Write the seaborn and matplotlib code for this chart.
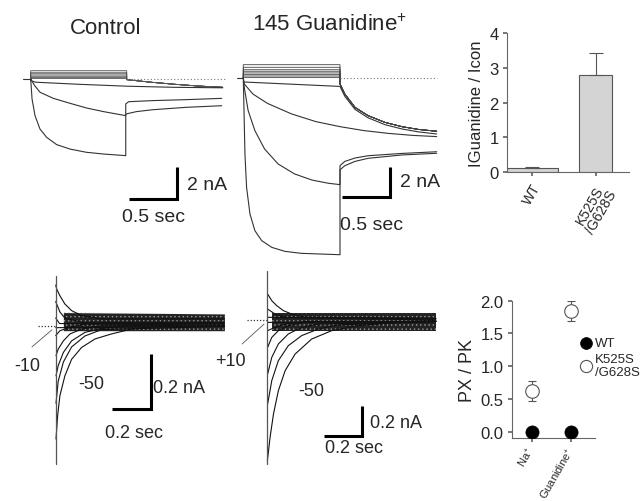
import numpy as np
import pandas as pd
import matplotlib
matplotlib.use("Agg")
import matplotlib.pyplot as plt
import matplotlib.transforms as mtransforms
import seaborn as sns

sns.set_theme(style="white")
plt.rcParams['font.family'] = ['Liberation Sans', 'DejaVu Sans']
plt.rcParams['mathtext.fontset'] = 'custom'
plt.rcParams['mathtext.rm'] = 'Liberation Sans'
plt.rcParams['hatch.linewidth'] = 0.5

# ---------------- DATA ----------------
# Top-left: Control currents (time s, current nA)
CTRL_UP_LEVELS = [0.52, 0.42, 0.33, 0.25, 0.17, 0.09, 0.03]
CTRL_UP_TAIL_T = [1.0, 1.25, 1.5, 1.75, 2.0]
CTRL_UP_TAIL_I = [-0.04, -0.2, -0.33, -0.44, -0.52]
CTRL_A_T = [0.0, 0.05, 0.5, 1.0, 1.5, 2.0]
CTRL_A_I = [-0.1, -0.2, -0.33, -0.45, -0.52, -0.55]
CTRL_B_T = [0.0, 0.04, 0.097, 0.236, 0.41, 0.58, 0.76, 0.99, 0.99, 1.10, 1.27, 1.62, 1.99]
CTRL_B_I = [0.0, -0.4, -0.83, -1.21, -1.52, -1.81, -2.04, -2.29, -2.19, -2.04, -1.92, -1.77, -1.67]
CTRL_C_T = [0.0, 0.014, 0.045, 0.097, 0.167, 0.27, 0.41, 0.58, 0.76, 0.99, 0.99, 1.02, 1.27, 1.62, 1.99]
CTRL_C_I = [0.0, -1.25, -2.29, -3.13, -3.65, -4.1, -4.38, -4.58, -4.69, -4.79, -1.56, -1.42, -1.35, -1.29, -1.21]

# Top-middle: 145 Guanidine+
GUA_UP_LEVELS = [0.87, 0.70, 0.54, 0.44, 0.33, 0.22, 0.13, 0.04]
GUA_TAIL_T = [1.0, 1.05, 1.155, 1.29, 1.465, 1.64, 1.81, 2.0]
GUA_TAIL_I = [-0.39, -1.05, -1.92, -2.46, -2.9, -3.18, -3.36, -3.48]
GUA_FLAT_T = [0.0, 1.0, 1.0, 1.05, 1.155, 1.29, 1.465, 1.64, 1.81, 2.0]
GUA_FLAT_I = [-0.26, -0.55, -0.55, -1.2, -2.05, -2.6, -3.05, -3.33, -3.52, -3.66]
GUA_D_T = [0.0, 0.01, 0.1, 0.25, 0.5, 0.75, 1.0, 1.25, 1.5, 1.75, 2.0]
GUA_D_I = [0.0, -0.39, -1.05, -1.66, -2.35, -2.85, -3.18, -3.44, -3.62, -3.75, -3.83]
GUA_E_T = [0.0, 0.01, 0.05, 0.12, 0.22, 0.36, 0.53, 0.71, 0.88, 1.0, 1.0, 1.05, 1.155, 1.29, 1.64, 2.0]
GUA_E_I = [0.0, -0.61, -2.13, -3.44, -4.64, -5.62, -6.27, -6.67, -6.88, -6.97, -6.0, -5.73, -5.45, -5.25, -5.03, -4.92]
GUA_F_T = [0.0, 0.017, 0.034, 0.069, 0.12, 0.19, 0.295, 0.43, 0.6, 1.0, 1.0, 1.05, 1.155, 1.29, 1.64, 2.0]
GUA_F_I = [0.0, -4.97, -7.15, -8.89, -9.98, -10.63, -11.07, -11.33, -11.46, -11.55, -5.73, -5.45, -5.23, -5.08, -4.93, -4.82]

# Bottom-left: control tail currents
BL_TRACES = {
    "t1": ([0.0, 0.005, 0.022, 0.048, 0.083, 0.135, 0.24, 0.88], [0.15, 0.136, 0.111, 0.081, 0.057, 0.039, 0.027, 0.027]),
    "t2": ([0.0, 0.022, 0.048, 0.135, 0.88], [0.09, 0.052, 0.03, 0.015, 0.015]),
    "t3": ([0.0, 0.02, 0.88], [0.03, 0.01, 0.01]),
    "t4": ([0.0, 0.88], [-0.005, 0.0]),
    "t5": ([0.0, 0.022, 0.074, 0.153, 0.88], [-0.034, -0.016, -0.004, 0.008, 0.005]),
    "t6": ([0.0016, 0.013, 0.04, 0.074, 0.135, 0.24, 0.88], [-0.107, -0.083, -0.053, -0.028, -0.01, 0.002, 0.0]),
    "t7": ([0.0016, 0.013, 0.04, 0.083, 0.153, 0.24, 0.344, 0.88], [-0.18, -0.143, -0.095, -0.053, -0.022, -0.008, 0.002, 0.0]),
    "t8": ([0.0016, 0.013, 0.04, 0.083, 0.153, 0.24, 0.88], [-0.28, -0.2, -0.13, -0.075, -0.035, -0.012, 0.0]),
    "t9": ([0.0016, 0.01, 0.022, 0.048, 0.083, 0.135, 0.205, 0.29, 0.396, 0.553, 0.88],
           [-0.41, -0.325, -0.252, -0.18, -0.12, -0.077, -0.046, -0.028, -0.01, 0.002, 0.0]),
}
BL_NOISE_T = [0.04, 0.88]
BL_NOISE_LO = [-0.016, -0.016]
BL_NOISE_HI = [0.05, 0.045]
BL_TRANSIENT_I = [0.184, -0.50]

# Bottom-middle: guanidine tail currents
BM_TRACES = {
    "t1": ([0.005, 0.027, 0.053, 0.089, 0.133, 0.204, 0.9], [0.173, 0.129, 0.096, 0.062, 0.04, 0.018, 0.01]),
    "t2": ([0.005, 0.044, 0.098, 0.9], [0.073, 0.04, 0.018, 0.01]),
    "t3": ([0.005, 0.9], [0.018, 0.0]),
    "t4": ([0.005, 0.9], [-0.016, -0.01]),
    "t5": ([0.005, 0.044, 0.098, 0.204, 0.9], [-0.071, -0.049, -0.027, -0.01, -0.01]),
    "t6": ([0.005, 0.027, 0.062, 0.115, 0.204, 0.9], [-0.182, -0.116, -0.071, -0.038, -0.015, -0.01]),
    "t7": ([0.005, 0.027, 0.062, 0.115, 0.186, 0.275, 0.9], [-0.36, -0.249, -0.16, -0.093, -0.049, -0.027, -0.01]),
    "t8": ([0.005, 0.027, 0.062, 0.115, 0.186, 0.275, 0.381, 0.9], [-0.56, -0.404, -0.271, -0.171, -0.104, -0.06, -0.033, -0.01]),
    "t9": ([0.0035, 0.018, 0.036, 0.062, 0.098, 0.151, 0.239, 0.346, 0.488, 0.63, 0.77, 0.9],
           [-0.938, -0.782, -0.627, -0.471, -0.338, -0.227, -0.127, -0.071, -0.038, -0.022, -0.009, -0.005]),
}
BM_NOISE_T = [0.03, 0.9]
BM_NOISE_LO = [-0.07, -0.07]
BM_NOISE_HI = [0.05, 0.05]
BM_TRANSIENT_I = [0.329, -0.96]

# Bar chart
BAR_GROUPS = ["WT", "K525S\n/G628S"]
BAR_VALUES = [0.12, 2.8]
BAR_ERR = [0.02, 0.62]

# Permeability ratios
ION_LABELS = ["Na$^{+}$", "Guanidine$^{+}$"]
PX_WT = [0.0, 0.0]
PX_MUT = [0.62, 1.84]
PX_MUT_ERR = [0.15, 0.15]

# ---------------- LAYOUT ----------------
W, H = 640, 502
fig = plt.figure(figsize=(6.4, 5.02), dpi=100)
fig.patch.set_facecolor("white")


def trace_axes(left, right, top, bottom, x0, sx, y0, sy):
    ax = fig.add_axes([left / W, 1 - bottom / H, (right - left) / W, (bottom - top) / H])
    ax.set_xlim((left - x0) / sx, (right - x0) / sx)
    ax.set_ylim((y0 - bottom) / sy, (y0 - top) / sy)
    ax.axis("off")
    return ax


def draw_trace(ax, t, i, color="#333333", lw=0.8):
    df = pd.DataFrame({"t": t, "I": i})
    sns.lineplot(data=df, x="t", y="I", sort=False, estimator=None, ax=ax,
                 color=color, lw=lw, legend=False)


def scale_bar(ax, x_end, y_bot, dt, di, lw=2.2):
    ax.plot([x_end - dt, x_end, x_end], [y_bot, y_bot, y_bot + di], color="black",
            lw=lw, solid_joinstyle="miter", solid_capstyle="butt")


def noise_band(ax, t, lo, hi):
    ax.fill_between(t, lo, hi, facecolor="#101010", alpha=0.92, lw=0, zorder=1)
    ax.fill_between(t, lo, hi, facecolor="none", hatch="....", edgecolor="#999999", lw=0, zorder=1)


# ---- Control (top-left)
ax1 = trace_axes(10, 235, 15, 240, 30.7, 96, 80, 16)
for lvl in CTRL_UP_LEVELS:
    draw_trace(ax1, [0, 0.0, 1.0, 1.0] + CTRL_UP_TAIL_T[1:],
               [0, lvl, lvl, CTRL_UP_TAIL_I[0]] + CTRL_UP_TAIL_I[1:], color="#555555", lw=0.6)
draw_trace(ax1, CTRL_A_T, CTRL_A_I)
draw_trace(ax1, CTRL_B_T, CTRL_B_I)
draw_trace(ax1, CTRL_C_T, CTRL_C_I)
ax1.plot([-0.08, 0.0], [0, 0], color="#333333", lw=0.8)
ax1.plot([1.0, 2.05], [0, 0], color="#777777", lw=0.8, ls=(0, (1, 2)))
scale_bar(ax1, 1.525, -7.5, 0.5, 2)
ax1.text(1.63, -6.6, "2 nA", fontsize=14, va="center", ha="left")
ax1.text(1.275, -8.6, "0.5 sec", fontsize=14, va="center", ha="center")

# ---- Guanidine (top-middle)
ax2 = trace_axes(232, 440, 15, 262, 243.3, 96.7, 79, 15.3)
for lvl in GUA_UP_LEVELS:
    draw_trace(ax2, [0, 0.0, 1.0] + GUA_TAIL_T, [0, lvl, lvl] + GUA_TAIL_I, color="#444444", lw=0.6)
draw_trace(ax2, GUA_FLAT_T, GUA_FLAT_I)
draw_trace(ax2, GUA_D_T, GUA_D_I)
draw_trace(ax2, GUA_E_T, GUA_E_I)
draw_trace(ax2, GUA_F_T, GUA_F_I)
ax2.plot([-0.07, 0.0], [0, 0], color="#333333", lw=0.8)
ax2.plot([1.0, 2.0], [0, 0], color="#777777", lw=0.8, ls=(0, (1, 2)))
scale_bar(ax2, 1.517, -7.8, 0.5, 2)
ax2.text(1.62, -6.75, "2 nA", fontsize=14, va="center", ha="left")
ax2.text(1.0, -9.55, "0.5 sec", fontsize=14, va="center", ha="left")

fig.text(106 / W, 1 - 29 / H, "Control", fontsize=16, ha="center", va="center")
fig.text(330 / W, 1 - 25 / H, "145 Guanidine$^{+}$", fontsize=16, ha="center", va="center")

# ---- Bottom-left
ax3 = trace_axes(5, 238, 262, 478, 55.7, 191.7, 327.3, 275)
noise_band(ax3, BL_NOISE_T, BL_NOISE_LO, BL_NOISE_HI)
for name, (t, i) in BL_TRACES.items():
    draw_trace(ax3, t, i, color="#111111", lw=0.8)
ax3.plot([0, 0], BL_TRANSIENT_I, color="#555555", lw=0.9)
ax3.plot([-0.092, 0.0], [0, 0], color="#333333", lw=0.9, ls=(0, (1, 1.5)))
ax3.plot([-0.124, -0.02], [-0.075, -0.013], color="#555555", lw=0.6)
scale_bar(ax3, 0.4956, -0.3007, 0.2, 0.2)
ax3.text(-0.15, -0.144, "-10", fontsize=13, ha="center", va="center")
ax3.text(0.184, -0.208, "-50", fontsize=13, ha="center", va="center")
ax3.text(0.51, -0.221, "0.2 nA", fontsize=13, ha="left", va="center")
ax3.text(0.408, -0.385, "0.2 sec", fontsize=13, ha="center", va="center")
ax3.text(0.912, -0.125, "+10", fontsize=13, ha="center", va="center")

# ---- Bottom-middle
ax4 = trace_axes(238, 442, 262, 478, 266.7, 188, 321, 150)
noise_band(ax4, BM_NOISE_T, BM_NOISE_LO, BM_NOISE_HI)
for name, (t, i) in BM_TRACES.items():
    draw_trace(ax4, t, i, color="#111111", lw=0.8)
ax4.plot([0, 0], BM_TRANSIENT_I, color="#555555", lw=0.9)
ax4.plot([-0.106, 0.0], [0, 0], color="#333333", lw=0.9, ls=(0, (1, 1.5)))
ax4.plot([-0.131, -0.014], [-0.16, -0.027], color="#555555", lw=0.6)
scale_bar(ax4, 0.505, -0.771, 0.2, 0.2)
ax4.text(0.236, -0.467, "-50", fontsize=13, ha="center", va="center")
ax4.text(0.55, -0.68, "0.2 nA", fontsize=13, ha="left", va="center")
ax4.text(0.31, -0.853, "0.2 sec", fontsize=13, ha="left", va="center")

# ---- Bar chart (top-right)
ax5 = fig.add_axes([507.3 / W, 1 - 173.3 / H, (629 - 507.3) / W, (173.3 - 34) / H])
bar_df = pd.DataFrame({"group": BAR_GROUPS, "ratio": BAR_VALUES})
sns.barplot(data=bar_df, x="group", y="ratio", color="#d4d4d4", edgecolor="#555555",
            linewidth=0.8, width=0.8, errorbar=None, ax=ax5, saturation=1)
patches = ax5.patches
patches[1].set_width(0.52)
patches[1].set_x(1 - 0.26)
ax5.errorbar([0, 1], BAR_VALUES, yerr=[[0, 0], BAR_ERR], fmt="none", ecolor="#555555",
             elinewidth=0.8, capsize=5, capthick=0.8)
ax5.set_xlim(-0.39, 1.52)
ax5.set_ylim(0, 4)
ax5.set_yticks([0, 1, 2, 3, 4])
ax5.set_ylabel("IGuanidine / Icon", fontsize=12, labelpad=4)
ax5.set_xlabel("")
ax5.set_xticks([0, 1])
ax5.set_xticklabels(BAR_GROUPS, rotation=60, ha="center", fontsize=10, linespacing=0.95)
for s in ["top", "right"]:
    ax5.spines[s].set_visible(False)
for s in ["left", "bottom"]:
    ax5.spines[s].set_color("#666666")
    ax5.spines[s].set_linewidth(0.8)
ax5.tick_params(axis="y", labelsize=12, length=3, color="#666666", direction="out", left=True, pad=3)
ax5.tick_params(axis="x", length=3, color="#666666", direction="out", bottom=True, pad=3)

# ---- Permeability ratios (bottom-right)
ax6 = fig.add_axes([511.7 / W, 1 - 439.3 / H, (595 - 511.7) / W, (439.3 - 301.7) / H])
xpos = [0, 1]
ax6.errorbar(xpos, PX_MUT, yerr=PX_MUT_ERR, fmt="none", ecolor="#555555", elinewidth=0.8,
             capsize=3, capthick=0.8, zorder=2)
sns.scatterplot(x=xpos, y=PX_WT, color="black", s=90, edgecolor="black", linewidth=0.5,
                label="WT", ax=ax6, zorder=3)
sns.scatterplot(x=xpos, y=PX_MUT, color="white", s=95, edgecolor="#555555", linewidth=0.8,
                label="K525S\n/G628S", ax=ax6, zorder=3)
ax6.set_xlim(-0.51, 1.6)
ax6.set_ylim(-0.1, 2.0)
ax6.set_yticks([0.0, 0.5, 1.0, 1.5, 2.0])
ax6.set_yticklabels(["0.0", "0.5", "1.0", "1.5", "2.0"])
ax6.set_xticks(xpos)
ax6.set_xticklabels(ION_LABELS, rotation=60, ha="right", va="center",
                    rotation_mode="anchor", fontsize=8)
shift = mtransforms.ScaledTranslation(10 / 100, 8 / 100, fig.dpi_scale_trans)
for lab in ax6.get_xticklabels():
    lab.set_transform(lab.get_transform() + shift)
ax6.set_ylabel("PX / PK", fontsize=13, labelpad=3)
for s in ["top", "right"]:
    ax6.spines[s].set_visible(False)
for s in ["left", "bottom"]:
    ax6.spines[s].set_color("#666666")
    ax6.spines[s].set_linewidth(0.8)
ax6.tick_params(axis="y", labelsize=12, length=3, color="#666666", direction="out", left=True, pad=3)
ax6.tick_params(axis="x", length=3, color="#666666", direction="out", bottom=True, pad=4)
ax6.legend(loc="upper left", bbox_to_anchor=(578 / W, 1 - 338 / H), bbox_transform=fig.transFigure,
           frameon=False, fontsize=9.5, handletextpad=0.1, labelspacing=0.25, borderpad=0,
           handlelength=1.2, borderaxespad=0, markerscale=0.9)

fig.savefig("out.png", dpi=100, facecolor="white")
